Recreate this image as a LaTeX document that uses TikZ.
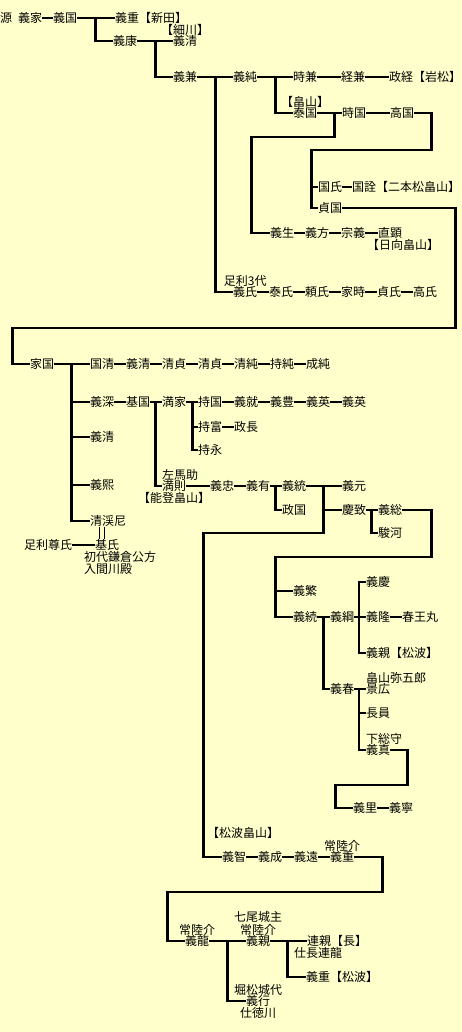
\documentclass[tikz,border=0pt]{standalone}
\usepackage{fontspec}
\setmainfont{Noto Sans CJK JP}
\usetikzlibrary{positioning}
\definecolor{bgYellow}{HTML}{FFFFCC}
\tikzset{
  pers/.style={inner sep=0pt, anchor=west, font=\fontsize{12}{12.5}\selectfont},
  note/.style={inner sep=0pt, align=center, font=\fontsize{12}{12.5}\selectfont},
  kin/.style={line width=2.2pt},
  marry/.style={double=bgYellow, double distance=4pt, line width=0.8pt},
}
\begin{document}
\begin{tikzpicture}[x=1pt, y=-1pt]
  \fill[bgYellow] (0,0) rectangle (462,1032);
  \useasboundingbox (0,0) rectangle (462,1032);

  % 源義家から足利・畠山
  \node[pers] (yoshiie)   at (0,18)   {源\hspace{6pt}義家};
  \node[pers] (yoshikuni) at (53,18)  {義国};
  \node[pers] (nitta)     at (115,18) {義重【新田】};
  \node[pers] (yoshiyasu) at (113,41) {義康};
  \node[pers] (hosokawa)  at (173,41) {義清};
  \node[note, above=0pt of hosokawa] (hosokawaLbl) {【細川】};
  \node[pers] (yoshikane) at (173,77) {義兼};
  \node[pers] (yoshizumi) at (233,77) {義純};
  \node[pers] (tokikane)  at (293,77) {時兼};
  \node[pers] (tsunekane) at (341,77) {経兼};
  \node[pers] (masatsune) at (389,77) {政経【岩松】};
  \node[pers] (yasukuni)  at (293,113) {泰国};
  \node[note, above=0pt of yasukuni] (hatakeLbl) {【畠山】};
  \node[pers] (tokikuni)  at (342,113) {時国};
  \node[pers] (takakuni)  at (390,113) {高国};
  \node[pers] (kuniuji)   at (318,187) {国氏};
  \node[pers] (kuniakira) at (352,187) {国詮【二本松畠山】};
  \node[pers] (sadakuni)  at (318,208) {貞国};
  \node[pers] (yoshiiku)  at (270,233) {義生};
  \node[pers] (yoshikata) at (305,233) {義方};
  \node[pers] (muneyoshi) at (341,233) {宗義};
  \node[pers] (tadaaki)   at (378,233) {直顕};
  \node[note, anchor=north west] (hyugaLbl) at ([xshift=-11pt]tadaaki.south west) {【日向畠山】};
  \node[pers] (yoshiuji)  at (233,292) {義氏};
  \node[note, above=0pt of yoshiuji] (ashikagaLbl) {足利3代};
  \node[pers] (yasuuji)   at (269,292) {泰氏};
  \node[pers] (yoriuji)   at (305,292) {頼氏};
  \node[pers] (ietoki)    at (341,292) {家時};
  \node[pers] (sadauji)   at (377,292) {貞氏};
  \node[pers] (takauji)   at (413,292) {高氏};

  \draw[kin] (yoshiie) -- (yoshikuni);
  \draw[kin] (yoshikuni) -- (nitta);
  \draw[kin] (yoshikuni.east) -- ++(18,0) |- (yoshiyasu.west);
  \draw[kin] (yoshiyasu) -- (hosokawa);
  \draw[kin] (yoshiyasu.east) -- ++(18,0) |- (yoshikane.west);
  \draw[kin] (yoshikane) -- (yoshizumi);
  \draw[kin] (yoshikane.east) -- ++(18,0) |- (yoshiuji.west);
  \draw[kin] (yoshizumi) -- (tokikane);
  \draw[kin] (tokikane) -- (tsunekane);
  \draw[kin] (tsunekane) -- (masatsune);
  \draw[kin] (yoshizumi.east) -- ++(18,0) |- (yasukuni.west);
  \draw[kin] (yasukuni) -- (tokikuni);
  \draw[kin] (tokikuni) -- (takakuni);
  \draw[kin] (yasukuni.east) -- ++(17,0) |- ++(-83,24) |- (yoshiiku.west);
  \draw[kin] (takakuni.east) -- ++(17,0) |- ++(-120,37) |- (sadakuni.west);
  \draw[kin] (kuniuji.west) -- ++(-7,0);
  \draw[kin] (kuniuji) -- (kuniakira);
  \draw[kin] (yoshiiku) -- (yoshikata);
  \draw[kin] (yoshikata) -- (muneyoshi);
  \draw[kin] (muneyoshi) -- (tadaaki);
  \draw[kin] (yoshiuji) -- (yasuuji);
  \draw[kin] (yasuuji) -- (yoriuji);
  \draw[kin] (yoriuji) -- (ietoki);
  \draw[kin] (ietoki) -- (sadauji);
  \draw[kin] (sadauji) -- (takauji);

  % 家国以降
  \node[pers] (iekuni)     at (30,364)  {家国};
  \node[pers] (kunikiyo)   at (90,364)  {国清};
  \node[pers] (yoshikiyo)  at (126,364) {義清};
  \node[pers] (kiyosadaA)  at (162,364) {清貞};
  \node[pers] (kiyosadaB)  at (198,364) {清貞};
  \node[pers] (kiyozumi)   at (234,364) {清純};
  \node[pers] (mochizumi)  at (270,364) {持純};
  \node[pers] (shigezumi)  at (306,364) {成純};
  \node[pers] (yoshifuka)  at (90,402)  {義深};
  \node[pers] (motokuni)   at (126,402) {基国};
  \node[pers] (mitsuie)    at (162,402) {満家};
  \node[pers] (mochikuni)  at (198,402) {持国};
  \node[pers] (yoshinari)  at (234,402) {義就};
  \node[pers] (yoshitoyo)  at (270,402) {義豊};
  \node[pers] (yoshihideA) at (306,402) {義英};
  \node[pers] (yoshihideB) at (342,402) {義英};
  \node[pers] (mochitomi)  at (198,427) {持富};
  \node[pers] (masanaga)   at (234,427) {政長};
  \node[pers] (yoshikiyoB) at (90,437)  {義清};
  \node[pers] (mochinaga)  at (198,450) {持永};
  \node[pers] (yoshihiro)  at (90,485)  {義熙};
  \node[pers] (seikeini)   at (90,521)  {清渓尼};
  \node[pers] (takaujiB)   at (24,545)  {足利尊氏};
  \node[pers] (motouji)    at (95,545)  {基氏};
  \node[note, anchor=north west, align=left] (kamakuraLbl) at ([xshift=-11pt]motouji.south west) {初代鎌倉公方\\入間川殿};

  % 能登畠山
  \node[pers] (mitsunori)  at (162,486) {満則};
  \node[note, anchor=south west] (samaLbl) at (mitsunori.north west) {左馬助};
  \node[note, below=0pt of mitsunori] (notoLbl) {【能登畠山】};
  \node[pers] (yoshitada)  at (210,486) {義忠};
  \node[pers] (yoshiari)   at (246,486) {義有};
  \node[pers] (yoshimune)  at (282,486) {義統};
  \node[pers] (masakuni)   at (282,510) {政国};
  \node[pers] (yoshimoto)  at (342,486) {義元};
  \node[pers] (keichi)     at (342,510) {慶致};
  \node[pers] (yoshifusa)  at (378,510) {義総};
  \node[pers] (suruga)     at (378,533) {駿河};
  \node[pers] (yoshishige) at (293,591) {義繁};
  \node[pers] (yoshitsugu) at (293,617) {義続};
  \node[pers] (yoshitsuna) at (330,617) {義綱};
  \node[pers] (yoshiyoshi) at (366,582) {義慶};
  \node[pers] (yoshitaka)  at (366,617) {義隆};
  \node[pers] (harumaru)   at (402,617) {春王丸};
  \node[pers] (yoshichika) at (366,653) {義親【松波】};
  \node[pers] (yoshiharu)  at (330,689) {義春};
  \node[pers] (kagehiro)   at (366,689) {景広};
  \node[note, anchor=south west] (yagoroLbl) at (kagehiro.north west) {畠山弥五郎};
  \node[pers] (nagakazu)   at (366,713) {長員};
  \node[pers] (yoshizane)  at (366,750) {義真};
  \node[note, anchor=south west] (shimosaLbl) at (yoshizane.north west) {下総守};
  \node[pers] (yoshisato)  at (353,808) {義里};
  \node[pers] (yoshiyasuB) at (389,808) {義寧};

  % 松波畠山
  \node[note, anchor=west] (matsunamiLbl) at (207,833) {【松波畠山】};
  \node[pers] (yoshitomo)   at (222,857) {義智};
  \node[pers] (yoshinariB)  at (258,857) {義成};
  \node[pers] (yoshito)     at (294,857) {義遠};
  \node[pers] (yoshishigeB) at (330,857) {義重};
  \node[note, above=0pt of yoshishigeB] (hitachiA) {常陸介};
  \node[pers] (yoshitatsu)  at (185,941) {義龍};
  \node[note, above=0pt of yoshitatsu] (hitachiB) {常陸介};
  \node[pers] (yoshichikaB) at (246,941) {義親};
  \node[note, above=0pt of yoshichikaB] (nanaoLbl) {七尾城主\\常陸介};
  \node[pers] (tsurachika)  at (307,941) {連親【長】};
  \node[note, anchor=north west] (choLbl) at ([xshift=-13pt]tsurachika.south west) {仕長連龍};
  \node[pers] (yoshishigeC) at (306,977) {義重【松波】};
  \node[pers] (yoshiyuki)   at (246,1001) {義行};
  \node[note, above=0pt of yoshiyuki] (horimatsuLbl) {堀松城代};
  \node[note, below=0pt of yoshiyuki] (tokugawaLbl) {仕徳川};

  \draw[kin] (sadakuni.east) -- ++(113,0) |- ++(-443,120) |- (iekuni.west);
  \draw[kin] (iekuni) -- (kunikiyo);
  \draw[kin] (kunikiyo) -- (yoshikiyo);
  \draw[kin] (yoshikiyo) -- (kiyosadaA);
  \draw[kin] (kiyosadaA) -- (kiyosadaB);
  \draw[kin] (kiyosadaB) -- (kiyozumi);
  \draw[kin] (kiyozumi) -- (mochizumi);
  \draw[kin] (mochizumi) -- (shigezumi);
  \draw[kin] (iekuni.east) -- ++(17,0) |- (seikeini.west);
  \draw[kin] (yoshifuka.west) -- ++(-19,0);
  \draw[kin] (yoshikiyoB.west) -- ++(-19,0);
  \draw[kin] (yoshihiro.west) -- ++(-19,0);
  \draw[kin] (yoshifuka) -- (motokuni);
  \draw[kin] (motokuni) -- (mitsuie);
  \draw[kin] (motokuni.east) -- ++(5,0) |- (mitsunori.west);
  \draw[kin] (mitsuie) -- (mochikuni);
  \draw[kin] (mitsuie.east) -- ++(6,0) |- (mochinaga.west);
  \draw[kin] (mochitomi.west) -- ++(-6,0);
  \draw[kin] (mochikuni) -- (yoshinari);
  \draw[kin] (yoshinari) -- (yoshitoyo);
  \draw[kin] (yoshitoyo) -- (yoshihideA);
  \draw[kin] (yoshihideA) -- (yoshihideB);
  \draw[kin] (mochitomi) -- (masanaga);
  \draw[marry] ([xshift=-6pt]seikeini.south) -- ([xshift=-6pt]seikeini.south |- motouji.north);
  \draw[kin] (takaujiB) -- (motouji);

  \draw[kin] (mitsunori) -- (yoshitada);
  \draw[kin] (yoshitada) -- (yoshiari);
  \draw[kin] (yoshiari) -- (yoshimune);
  \draw[kin] (yoshiari.east) -- ++(5,0) |- (masakuni.west);
  \draw[kin] (yoshimune) -- (yoshimoto);
  \draw[kin] (yoshimune.east) -- ++(17,0) |- ++(-120,47) |- (yoshitomo.west);
  \draw[kin] (keichi.west) -- ++(-19,0);
  \draw[kin] (keichi) -- (yoshifusa);
  \draw[kin] (keichi.east) -- ++(5,0) |- (suruga.west);
  \draw[kin] (yoshifusa.east) -- ++(29,0) |- ++(-156,47) |- (yoshitsugu.west);
  \draw[kin] (yoshishige.west) -- ++(-18,0);
  \draw[kin] (yoshitsugu) -- (yoshitsuna);
  \draw[kin] (yoshitsugu.east) -- ++(6,0) |- (yoshiharu.west);
  \draw[kin] (yoshitsuna) -- (yoshitaka);
  \draw[kin] (yoshiyoshi.west) -- ++(-7,0) |- (yoshichika.west);
  \draw[kin] (yoshitaka) -- (harumaru);
  \draw[kin] (yoshiharu) -- (kagehiro);
  \draw[kin] (kagehiro.west) -- ++(-7,0) |- (yoshizane.west);
  \draw[kin] (nagakazu.west) -- ++(-7,0);
  \draw[kin] (yoshizane.east) -- ++(17,0) |- ++(-72,35) |- (yoshisato.west);
  \draw[kin] (yoshisato) -- (yoshiyasuB);

  \draw[kin] (yoshitomo) -- (yoshinariB);
  \draw[kin] (yoshinariB) -- (yoshito);
  \draw[kin] (yoshito) -- (yoshishigeB);
  \draw[kin] (yoshishigeB.east) -- ++(28,0) |- ++(-215,35) |- (yoshitatsu.west);
  \draw[kin] (yoshitatsu) -- (yoshichikaB);
  \draw[kin] (yoshitatsu.east) -- ++(18,0) |- (yoshiyuki.west);
  \draw[kin] (yoshichikaB) -- (tsurachika);
  \draw[kin] (yoshichikaB.east) -- ++(17,0) |- (yoshishigeC.west);
\end{tikzpicture}
\end{document}
